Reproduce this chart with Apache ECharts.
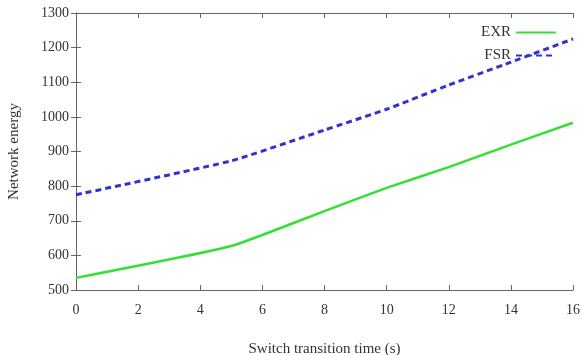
<!DOCTYPE html>
<html>
<head>
<meta charset="utf-8">
<script src="https://cdn.jsdelivr.net/npm/echarts@6/dist/echarts.min.js"></script>
<style>
html,body{margin:0;padding:0;background:#fff}
#main{width:583px;height:355px}
</style>
</head>
<body>
<div id="main"></div>
<script>
// switch transition time (s)
var xTimes = [0, 5, 8, 10, 12, 14, 16];
var exrEnergy = [535, 627, 728, 795, 855, 920, 983];
var fsrEnergy = [775, 873, 962, 1022, 1092, 1158, 1225];

var font = 'Liberation Serif';
var axisCol = '#666';

function pairs(xs, ys){
    return xs.map(function(x, i){ return [x, ys[i]]; });
}
function plain(v){ return String(v); }

var myChart = echarts.init(document.getElementById('main'));
var option = {
    animation: false,
    grid: { left: 76, right: 10, top: 13, bottom: 65, outerBoundsMode: 'none' },
    legend: {
        orient: 'vertical',
        right: 21,
        top: 20,
        align: 'right',
        itemWidth: 40,
        itemHeight: 10,
        itemGap: 8,
        itemStyle: { opacity: 0 },
        textStyle: { fontFamily: font, fontSize: 15, color: '#333' },
        data: ['EXR', 'FSR']
    },
    xAxis: [{
        type: 'value', min: 0, max: 16, interval: 2,
        name: 'Switch transition time (s)',
        nameLocation: 'middle', nameGap: 52,
        nameTextStyle: { fontFamily: font, fontSize: 15, color: '#333' },
        axisLine: { lineStyle: { color: axisCol } },
        axisTick: { inside: true, length: 5, lineStyle: { color: axisCol } },
        axisLabel: { fontFamily: font, fontSize: 14, color: '#333', margin: 13, formatter: plain },
        splitLine: { show: false }
    }, {
        type: 'value', min: 0, max: 16, interval: 2, position: 'top',
        axisLine: { show: true, lineStyle: { color: axisCol } },
        axisTick: { inside: true, length: 5, lineStyle: { color: axisCol } },
        axisLabel: { show: false },
        splitLine: { show: false }
    }],
    yAxis: [{
        type: 'value', min: 500, max: 1300, interval: 100,
        name: 'Network energy',
        nameLocation: 'middle', nameGap: 54,
        nameTextStyle: { fontFamily: font, fontSize: 15, color: '#333' },
        axisLine: { show: true, lineStyle: { color: axisCol } },
        axisTick: { show: true, inside: true, length: 5, lineStyle: { color: axisCol } },
        axisLabel: { fontFamily: font, fontSize: 14, color: '#333', margin: 7, formatter: plain },
        splitLine: { show: false }
    }, {
        type: 'value', min: 500, max: 1300, interval: 100, position: 'right',
        axisLine: { show: true, lineStyle: { color: axisCol } },
        axisTick: { show: true, inside: true, length: 5, lineStyle: { color: axisCol } },
        axisLabel: { show: false },
        splitLine: { show: false }
    }],
    series: [{
        name: 'EXR',
        type: 'line',
        data: pairs(xTimes, exrEnergy),
        symbol: 'none',
        smooth: 0.15,
        lineStyle: { color: '#33e033', width: 2.5 },
        itemStyle: { color: '#33e033' }
    }, {
        name: 'FSR',
        type: 'line',
        data: pairs(xTimes, fsrEnergy),
        symbol: 'none',
        smooth: 0.15,
        lineStyle: { color: '#3333cc', width: 3, type: [6, 4] },
        itemStyle: { color: '#3333cc' }
    }]
};
myChart.setOption(option);
</script>
</body>
</html>
